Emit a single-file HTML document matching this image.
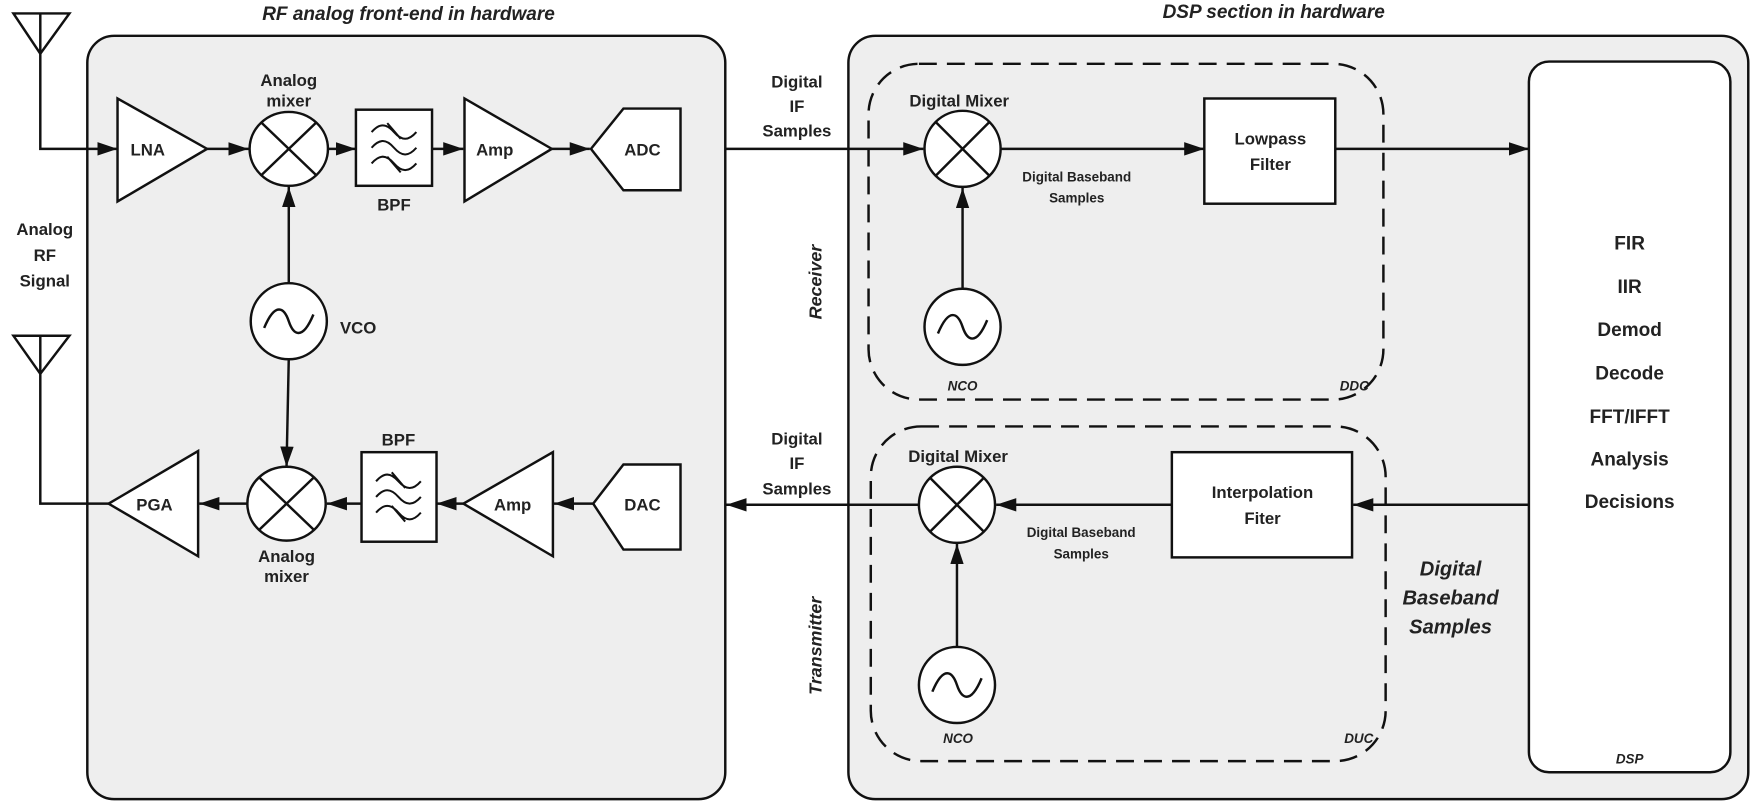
<!DOCTYPE html>
<html><head><meta charset="utf-8"><style>
html,body{margin:0;padding:0;background:#fff;}
svg{display:block;}
text{font-family:"Liberation Sans",sans-serif;font-weight:bold;fill:#222;}
</style></head><body>
<svg width="1755" height="810" viewBox="0 0 1568 723.7" xmlns="http://www.w3.org/2000/svg">
<defs>
<marker id="b" viewBox="0 0 18 12" markerWidth="18" markerHeight="12" refX="18" refY="6" orient="auto" markerUnits="userSpaceOnUse"><path d="M0,0 L18,6 L0,12 z" fill="#111"/></marker>
<g id="mix"><ellipse cx="0" cy="0" rx="35" ry="33" fill="#fff" stroke="#111" stroke-width="2.2"/><path d="M-24,-23 L24,23 M24,-23 L-24,23" stroke="#111" stroke-width="2.2"/></g>
<g id="dmix"><circle cx="0" cy="0" r="34" fill="#fff" stroke="#111" stroke-width="2.2"/><path d="M-24,-24 L24,24 M24,-24 L-24,24" stroke="#111" stroke-width="2.2"/></g>
<g id="osc"><circle cx="0" cy="0" r="34" fill="#fff" stroke="#111" stroke-width="2.2"/><path d="M-22,6 C-12,-18 -4,-12 0,0 C4,12 12,18 22,-6" fill="none" stroke="#111" stroke-width="2.2"/></g>
<g id="bpf"><path d="M-20,-14 c7,-8 13,-8 20,0 s13,8 20,0 M-20,0 c7,-8 13,-8 20,0 s13,8 20,0 M-20,14 c7,-8 13,-8 20,0 s13,8 20,0 M-6,-22 L6,-8 M-6,8 L6,22" fill="none" stroke="#111" stroke-width="1.8"/></g>
</defs>
<g stroke="#111" stroke-width="2.2">
<rect x="78" y="32" width="570" height="682" rx="24" fill="#eeeeee"/>
<rect x="758" y="32" width="804" height="682" rx="24" fill="#eeeeee"/>
<rect x="1366" y="55" width="180" height="635" rx="18" fill="#fff"/>
<rect x="776" y="57" width="460" height="300" rx="45" fill="none" stroke-dasharray="16,9"/>
<rect x="778" y="381" width="460" height="299" rx="45" fill="none" stroke-dasharray="16,9"/>
</g>
<text x="365" y="18" font-size="17" font-style="italic" text-anchor="middle">RF analog front-end in hardware</text>
<text x="1138" y="16" font-size="17" font-style="italic" text-anchor="middle">DSP section in hardware</text>
<g stroke="#111" stroke-width="2.2" fill="none">
<path d="M12,12 L62,12 L36,48 Z M36,12 L36,48"/>
<path d="M12,300 L62,300 L36,334 Z M36,300 L36,334"/>
<path d="M36,48 L36,133 L105,133" marker-end="url(#b)"/>
<path d="M185,133 L222,133" marker-end="url(#b)"/>
<path d="M293,133 L318,133" marker-end="url(#b)"/>
<path d="M386,133 L414,133" marker-end="url(#b)"/>
<path d="M493,133 L527,133" marker-end="url(#b)"/>
<path d="M258,254 L258,167" marker-end="url(#b)"/>
<path d="M258,320 L256,417" marker-end="url(#b)"/>
<path d="M530,450 L495,450" marker-end="url(#b)"/>
<path d="M414,450 L390,450" marker-end="url(#b)"/>
<path d="M323,450 L292,450" marker-end="url(#b)"/>
<path d="M221,450 L178,450" marker-end="url(#b)"/>
<path d="M97,450 L36,450 L36,334"/>
<path d="M648,133 L825,133" marker-end="url(#b)"/>
<path d="M894,133 L1076,133" marker-end="url(#b)"/>
<path d="M1193,133 L1366,133" marker-end="url(#b)"/>
<path d="M860,258 L860,168" marker-end="url(#b)"/>
<path d="M1366,451 L1209,451" marker-end="url(#b)"/>
<path d="M1047,451 L890,451" marker-end="url(#b)"/>
<path d="M821,451 L649,451" marker-end="url(#b)"/>
<path d="M855,578 L855,486" marker-end="url(#b)"/>
</g>
<g stroke="#111" stroke-width="2.2" fill="#fff">
<path d="M105,88 L105,180 L185,133 Z"/>
<path d="M415,88 L415,180 L493,133 Z"/>
<path d="M528,133 L557,97 L608,97 L608,170 L557,170 Z"/>
<rect x="318" y="98" width="68" height="68"/>
<path d="M177,403 L177,497 L97,450 Z"/>
<rect x="323" y="404" width="67" height="80"/>
<path d="M494,404 L494,497 L414,450 Z"/>
<path d="M530,450 L557,415 L608,415 L608,491 L557,491 Z"/>
<rect x="1076" y="88" width="117" height="94"/>
<rect x="1047" y="404" width="161" height="94"/>
</g>
<use href="#mix" x="258" y="133"/>
<use href="#mix" x="256" y="450"/>
<use href="#osc" x="258" y="287"/>
<use href="#bpf" x="352" y="132"/>
<use href="#bpf" x="356" y="444"/>
<use href="#dmix" x="860" y="133"/>
<use href="#dmix" x="855" y="451"/>
<use href="#osc" x="860" y="292"/>
<use href="#osc" x="855" y="612"/>
<g font-size="15" text-anchor="middle">
<text x="258" y="77">Analog</text><text x="258" y="95">mixer</text>
<text x="256" y="502">Analog</text><text x="256" y="520">mixer</text>
<text x="132" y="139">LNA</text>
<text x="442" y="139">Amp</text>
<text x="574" y="139">ADC</text>
<text x="352" y="188">BPF</text>
<text x="356" y="398">BPF</text>
<text x="138" y="456">PGA</text>
<text x="458" y="456">Amp</text>
<text x="574" y="456">DAC</text>
<text x="320" y="298">VCO</text>
<text x="40" y="210">Analog</text><text x="40" y="233">RF</text><text x="40" y="256">Signal</text>
<text x="712" y="78">Digital</text><text x="712" y="100">IF</text><text x="712" y="122">Samples</text>
<text x="712" y="397">Digital</text><text x="712" y="419">IF</text><text x="712" y="442">Samples</text>
<text x="857" y="95">Digital Mixer</text>
<text x="856" y="413">Digital Mixer</text>
<text x="1135" y="129">Lowpass</text><text x="1135" y="152">Filter</text>
<text x="1128" y="445">Interpolation</text><text x="1128" y="468">Fiter</text>
</g>
<g font-size="12" text-anchor="middle">
<text x="962" y="162">Digital Baseband</text><text x="962" y="181">Samples</text>
<text x="966" y="480">Digital Baseband</text><text x="966" y="499">Samples</text>
</g>
<g font-size="12" font-style="italic" text-anchor="middle">
<text x="860" y="349">NCO</text><text x="1210" y="349">DDC</text>
<text x="856" y="664">NCO</text><text x="1214" y="664">DUC</text>
<text x="1456" y="682">DSP</text>
</g>
<g font-size="16" font-style="italic" text-anchor="middle">
<text transform="translate(734,252) rotate(-90)">Receiver</text>
<text transform="translate(734,577) rotate(-90)">Transmitter</text>
</g>
<g font-size="18" font-style="italic" text-anchor="middle">
<text x="1296" y="514">Digital</text><text x="1296" y="540">Baseband</text><text x="1296" y="566">Samples</text>
</g>
<g font-size="17" text-anchor="middle">
<text x="1456" y="223">FIR</text><text x="1456" y="262">IIR</text><text x="1456" y="300">Demod</text>
<text x="1456" y="339">Decode</text><text x="1456" y="378">FFT/IFFT</text><text x="1456" y="416">Analysis</text>
<text x="1456" y="454">Decisions</text>
</g>
</svg>
</body></html>
